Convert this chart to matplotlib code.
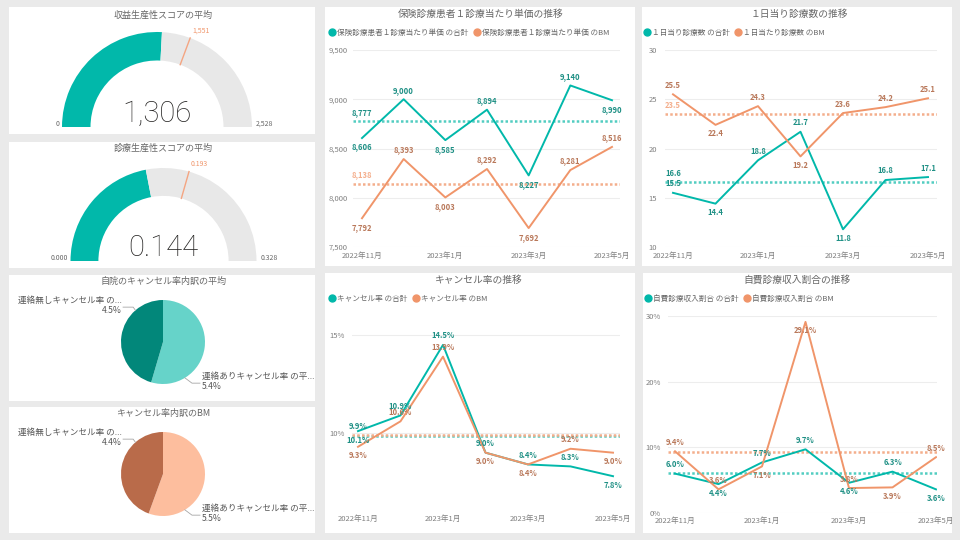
import numpy as np
import matplotlib
matplotlib.use('Agg')
import matplotlib.pyplot as plt
from matplotlib.lines import Line2D
from matplotlib.patches import Rectangle

plt.rcParams['font.family'] = ['Noto Sans CJK JP', 'DejaVu Sans']

# ---- data ----
months = ['2022年11月', '2022年12月', '2023年1月', '2023年2月',
          '2023年3月', '2023年4月', '2023年5月']

revenue_score, revenue_score_bm, revenue_score_max = 1306, 1551, 2528
clinic_score, clinic_score_bm, clinic_score_max = 0.144, 0.193, 0.328

cancel_parts = ['連絡ありキャンセル率 の平...', '連絡無しキャンセル率 の...']
cancel_parts_bm_names = ['連絡ありキャンセル率 の平...', '連絡無しキャンセル率 の...']
cancel_own = [5.4, 4.5]
cancel_bm = [5.5, 4.4]

unit_price = [8606, 9000, 8585, 8894, 8227, 9140, 8990]
unit_price_bm = [7792, 8393, 8003, 8292, 7692, 8281, 8516]
daily_visits = [15.5, 14.4, 18.8, 21.7, 11.8, 16.8, 17.1]
daily_visits_bm = [25.5, 22.4, 24.3, 19.2, 23.6, 24.2, 25.1]
cancel_rate = [10.1, 10.9, 14.5, 9.0, 8.4, 8.3, 7.8]
cancel_rate_bm = [9.3, 10.6, 13.9, 9.0, 8.4, 9.2, 9.0]
self_pay = [6.0, 4.4, 7.7, 9.7, 4.6, 6.3, 3.6]
self_pay_bm = [9.4, 3.6, 7.1, 29.1, 3.8, 3.9, 8.5]

# ---- colours ----
TEAL = '#01B8AA'
TEAL_LAB = '#1F9085'
TEAL_AVG = '#52CDC1'
ORANGE = '#F0956A'
ORANGE_LAB = '#B9785A'
ORANGE_AVG = '#F4AE8C'
GREY_TXT = '#666666'
TICK_TXT = '#808080'

W, H = 960, 540
fig = plt.figure(figsize=(9.6, 5.4), dpi=100, facecolor='#EAEAEA')


def fig_box(x0, y0, x1, y1):
    return [x0 / W, 1 - y1 / H, (x1 - x0) / W, (y1 - y0) / H]


def tile(x0, y0, x1, y1):
    fig.add_artist(Rectangle((x0 / W, 1 - y1 / H), (x1 - x0) / W, (y1 - y0) / H,
                             transform=fig.transFigure, facecolor='white',
                             edgecolor='none', zorder=-5))


def ftext(x, y, s, **kw):
    fig.text(x / W, 1 - y / H, s, **kw)


def fix_circle(ax, box, cx, cy, r):
    x0, y0, x1, y1 = box
    ax.set_xlim((x0 - cx) / r, (x1 - cx) / r)
    ax.set_ylim((cy - y1) / r, (cy - y0) / r)
    ax.set_aspect('auto')
    ax.axis('off')


# tiles
for b in [(9, 7, 315, 134), (9, 142, 315, 268), (9, 275, 315, 401), (9, 407, 315, 533),
          (325, 7, 635, 266), (642, 7, 952, 266), (325, 273, 635, 533), (643, 273, 952, 533)]:
    tile(*b)


def gauge(box, cx, cy, r, value, target, vmax, fmt, title, ty):
    ax = fig.add_axes(fig_box(*box))
    ax.pie([value, vmax - value, vmax], colors=[TEAL, '#E8E8E8', 'none'],
           startangle=180, counterclock=False,
           wedgeprops=dict(width=0.3, linewidth=0))
    th = np.pi * (1 - target / vmax)
    ax.plot([0.7 * np.cos(th), np.cos(th)], [0.7 * np.sin(th), np.sin(th)],
            color='#F4A582', lw=1)
    ax.text(1.08 * np.cos(th), 1.08 * np.sin(th), fmt.format(target), color=ORANGE,
            fontsize=5, ha='left', va='center')
    ax.text(0, 0.05, fmt.format(value), fontsize=21, ha='center', va='baseline',
            color='#252423', family=['Roboto', 'DejaVu Sans'], fontweight='light')
    ax.text(-1.03, 0.03, fmt.format(0), fontsize=5, color=GREY_TXT, ha='right', va='center')
    ax.text(1.04, 0.03, fmt.format(vmax), fontsize=5, color=GREY_TXT, ha='left', va='center')
    fix_circle(ax, box, cx, cy, r)
    ftext(163, ty, title, fontsize=6.5, color=GREY_TXT, ha='center', va='center')


gauge((9, 7, 315, 134), 157, 127, 95, revenue_score, revenue_score_bm,
      revenue_score_max, '{:,.0f}', '収益生産性スコアの平均', 15)
gauge((9, 142, 315, 268), 163.5, 261, 93, clinic_score, clinic_score_bm,
      clinic_score_max, '{:.3f}', '診療生産性スコアの平均', 148)


def pie(box, cx, cy, r, values, names, colors, title, ty):
    ax = fig.add_axes(fig_box(*box))
    ax.pie(values, colors=colors, startangle=90, counterclock=False,
           wedgeprops=dict(linewidth=0))
    a1, a2 = np.radians(131), np.radians(-58.6)
    ax.plot([-0.95, -0.71, np.cos(a1)], [0.83, 0.83, np.sin(a1)], color='#A6A6A6', lw=0.6)
    ax.plot([np.cos(a2), 0.69, 0.88], [np.sin(a2), -0.98, -0.98], color='#A6A6A6', lw=0.6)
    ax.text(-0.98, 0.86, f'{names[1]}\n{values[1]:.1f}%', ha='right', va='center',
            multialignment='right', fontsize=6.2, color='#555555', linespacing=1.15)
    ax.text(0.93, -0.95, f'{names[0]}\n{values[0]:.1f}%', ha='left', va='center',
            multialignment='left', fontsize=6.2, color='#555555', linespacing=1.15)
    fix_circle(ax, box, cx, cy, r)
    ftext(163, ty, title, fontsize=6.5, color=GREY_TXT, ha='center', va='center')


pie((9, 275, 315, 401), 163, 342, 42, cancel_own, cancel_parts,
    ['#66D3C9', '#02877A'], '自院のキャンセル率内訳の平均', 281)
pie((9, 407, 315, 533), 163, 474, 42, cancel_bm, cancel_parts_bm_names,
    ['#FDBE9E', '#B96B4A'], 'キャンセル率内訳のBM', 413)


def line_chart(box, p0, p1, ylim, yticks, yfmt, own, bm, pos_own, pos_bm, lfmt,
               title, tpos, names, lpos, xpad, ypad,
               avg_own=True, avg_bm=True, avg_dir=(1, 1), hide_own=(), hide_bm=()):
    x0, y0, x1, y1 = box
    ax = fig.add_axes(fig_box(*box))
    n = len(own)
    unit = (p1 - p0) / (n - 1)
    ax.set_xlim(-(p0 - x0) / unit, n - 1 + (x1 - p1) / unit)
    ax.set_ylim(*ylim)
    x = np.arange(n)
    series = [(own, TEAL, TEAL_LAB, TEAL_AVG, pos_own, hide_own, avg_own, avg_dir[0]),
              (bm, ORANGE, ORANGE_LAB, ORANGE_AVG, pos_bm, hide_bm, avg_bm, avg_dir[1])]
    for vals, lc, tc, ac, pos, hide, show_avg, adir in series:
        ax.plot(x, vals, color=lc, lw=1.4, zorder=3)
        m = np.mean(vals)
        ax.axhline(m, color=ac, lw=1.8, linestyle=(0, (1, 0.9)), zorder=2)
        for i, v in enumerate(vals):
            if i in hide:
                continue
            ax.annotate(lfmt.format(v), (i, v), xytext=(0, 6.5 * pos[i]),
                        textcoords='offset points', ha='center', va='center',
                        fontsize=5.5, color=tc, fontweight='bold', zorder=5,
                        annotation_clip=False)
        if show_avg:
            ax.annotate(lfmt.format(m), (0, m), xytext=(0, 6.5 * adir),
                        textcoords='offset points', ha='center', va='center',
                        fontsize=5.5, color=ac if lc == ORANGE else tc,
                        fontweight='bold', zorder=5, annotation_clip=False)
    ax.set_yticks(yticks)
    ax.set_yticklabels([yfmt.format(t) for t in yticks])
    ax.set_xticks(x[::2])
    ax.set_xticklabels(months[::2])
    ax.tick_params(axis='both', length=0, labelsize=5.5, labelcolor=TICK_TXT)
    ax.tick_params(axis='x', pad=xpad)
    ax.tick_params(axis='y', pad=ypad)
    ax.grid(axis='y', color='#EDEDED', lw=0.8)
    ax.set_axisbelow(True)
    for s in ax.spines.values():
        s.set_visible(False)
    ax.patch.set_visible(False)
    ftext(tpos[0], tpos[1], title, fontsize=7, color=GREY_TXT, ha='center', va='center')
    handles = [Line2D([], [], marker='o', linestyle='none', markersize=5, color=TEAL),
               Line2D([], [], marker='o', linestyle='none', markersize=5, color=ORANGE)]
    ax.legend(handles, names, loc='center left',
              bbox_to_anchor=(lpos[0] / W, 1 - lpos[1] / H),
              bbox_transform=fig.transFigure, frameon=False, ncol=2,
              fontsize=5.5, labelcolor=GREY_TXT, handlelength=0.7,
              handletextpad=0.3, columnspacing=0.8, borderpad=0, borderaxespad=0)
    return ax


line_chart((353, 50, 620, 247), 362, 612, (7500, 9500),
           [7500, 8000, 8500, 9000, 9500], '{:,.0f}',
           unit_price, unit_price_bm,
           [-1, 1, -1, 1, -1, 1, -1], [-1, 1, -1, 1, -1, 1, 1], '{:,.0f}',
           '保険診療患者１診療当たり単価の推移', (481, 14),
           ['保険診療患者１診療当たり単価 の合計', '保険診療患者１診療当たり単価 のBM'],
           (329, 33), 3.6, 3.6)

line_chart((665, 50, 937, 247), 673, 928, (10, 30),
           [10, 15, 20, 25, 30], '{:.0f}',
           daily_visits, daily_visits_bm,
           [1, -1, 1, 1, -1, 1, 1], [1, -1, 1, -1, 1, 1, 1], '{:.1f}',
           '１日当り診療数の推移', (799, 14),
           ['１日当り診療数 の合計', '１日当たり診療数 のBM'],
           (644, 33), 3.6, 5.5)

line_chart((352, 310, 620, 505), 358, 613, (6.33, 16.28),
           [10, 15], '{:.0f}%',
           cancel_rate, cancel_rate_bm,
           [-1, 1, 1, 1, 1, 1, -1], [-1, 1, 1, -1, -1, 1, -1], '{:.1f}%',
           'キャンセル率の推移', (479, 280),
           ['キャンセル率 の合計', 'キャンセル率 のBM'],
           (329, 299), 7, 5.5, avg_bm=False)

line_chart((668, 316, 937, 513), 675, 936, (0, 30),
           [0, 10, 20, 30], '{:.0f}%',
           self_pay, self_pay_bm,
           [1, -1, 1, 1, -1, 1, -1], [1, 1, -1, -1, 1, -1, 1], '{:.1f}%',
           '自費診療収入割合の推移', (797, 280),
           ['自費診療収入割合 の合計', '自費診療収入割合 のBM'],
           (645, 299), 3, 5, avg_own=False, avg_bm=False)

fig.savefig('out.png', dpi=100, facecolor=fig.get_facecolor())
